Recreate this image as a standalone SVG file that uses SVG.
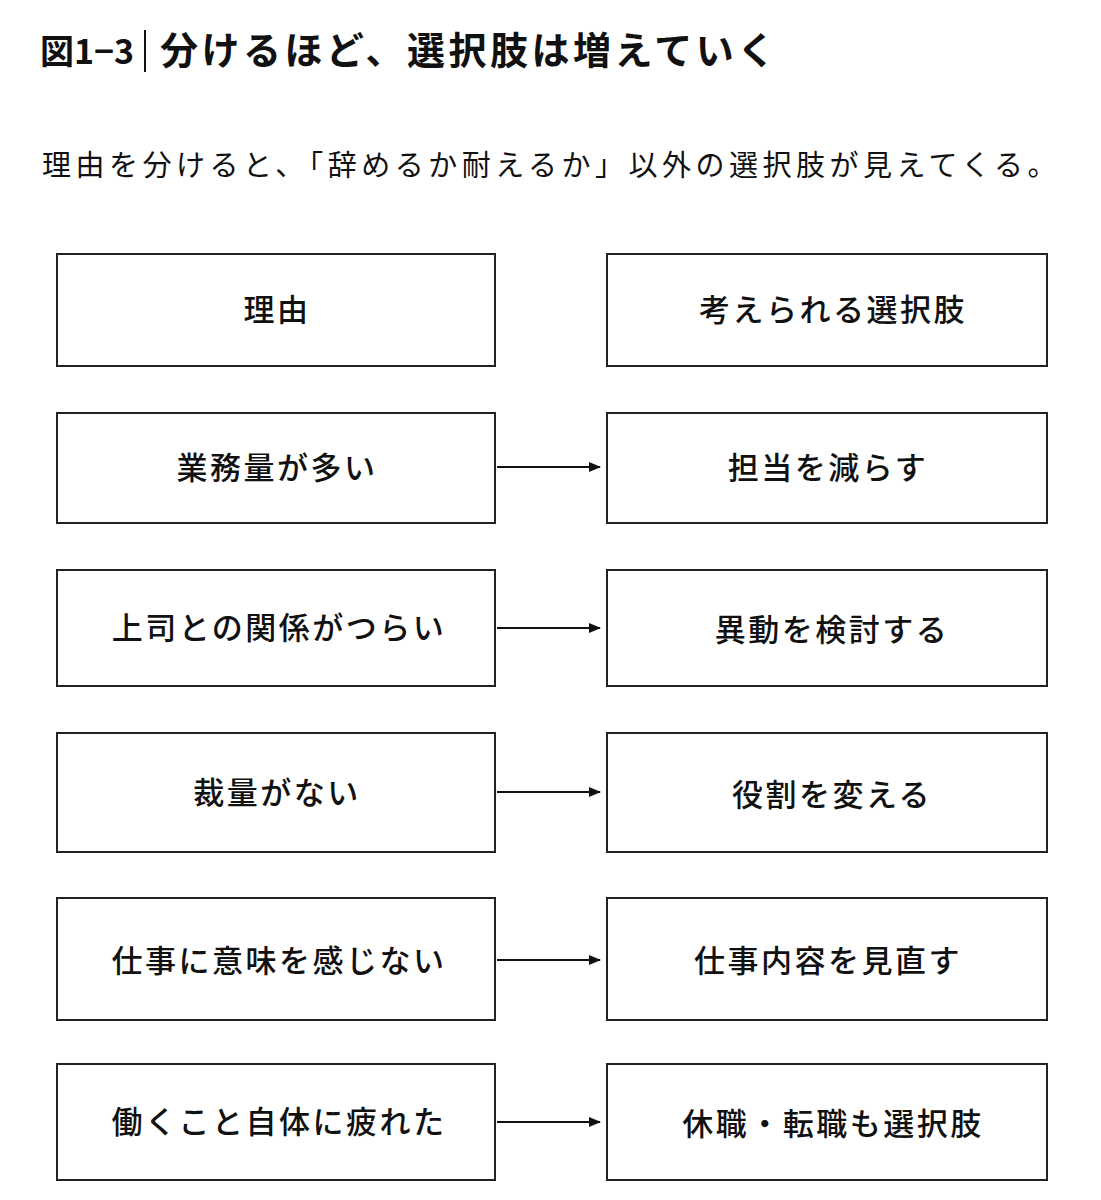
<svg xmlns="http://www.w3.org/2000/svg" width="1101" height="1200" viewBox="0 0 1101 1200">
<style>
text{font-family:"Noto Sans CJK JP","Noto Sans",sans-serif;fill:#111}
.b{fill:#fff;stroke:#222;stroke-width:2}
.t{font-size:31px;font-weight:500;text-anchor:middle;letter-spacing:2.5px}
.c{stroke:#111;stroke-width:2;fill:none;marker-end:url(#a)}
</style>
<defs><marker id="a" markerWidth="12" markerHeight="10" refX="11" refY="5" orient="auto" markerUnits="userSpaceOnUse"><path d="M0,0 L12,5 L0,10 Z" fill="#111"/></marker></defs>
<rect width="1101" height="1200" fill="#fff"/>
<g id="title"><text x="40" y="64" font-size="34" font-weight="700">図1−3</text>
<line x1="145" y1="30" x2="145" y2="72" stroke="#111" stroke-width="2"/>
<text x="160" y="64" font-size="38" font-weight="700" letter-spacing="3.5">分けるほど、選択肢は増えていく</text></g>
<text id="sub" x="42" y="176" font-size="29" letter-spacing="4.5">理由を分けると、「辞めるか耐えるか」以外の選択肢が見えてくる。</text>
<g id="h1"><rect class="b" x="57" y="254" width="438" height="112"/><text class="t" x="277" y="321" font-weight="700">理由</text></g>
<g id="h2"><rect class="b" x="607" y="254" width="440" height="112"/><text class="t" x="833" y="321" font-weight="700">考えられる選択肢</text></g>
<g id="l1"><rect class="b" x="57" y="413" width="438" height="110"/><text class="t" x="277" y="479">業務量が多い</text></g>
<g id="r1"><rect class="b" x="607" y="413" width="440" height="110"/><text class="t" x="828" y="479">担当を減らす</text></g>
<g id="l2"><rect class="b" x="57" y="570" width="438" height="116"/><text class="t" x="279" y="639">上司との関係がつらい</text></g>
<g id="r2"><rect class="b" x="607" y="570" width="440" height="116"/><text class="t" x="832" y="641">異動を検討する</text></g>
<g id="l3"><rect class="b" x="57" y="733" width="438" height="119"/><text class="t" x="277" y="804">裁量がない</text></g>
<g id="r3"><rect class="b" x="607" y="733" width="440" height="119"/><text class="t" x="832" y="806">役割を変える</text></g>
<g id="l4"><rect class="b" x="57" y="898" width="438" height="122"/><text class="t" x="279" y="972">仕事に意味を感じない</text></g>
<g id="r4"><rect class="b" x="607" y="898" width="440" height="122"/><text class="t" x="828" y="972">仕事内容を見直す</text></g>
<g id="l5"><rect class="b" x="57" y="1064" width="438" height="116"/><text class="t" x="279" y="1133">働くこと自体に疲れた</text></g>
<g id="r5"><rect class="b" x="607" y="1064" width="440" height="116"/><text class="t" x="833" y="1135">休職・転職も選択肢</text></g>
<g id="connectors">
<line class="c" x1="497" y1="467" x2="600" y2="467"/>
<line class="c" x1="497" y1="628" x2="600" y2="628"/>
<line class="c" x1="497" y1="792" x2="600" y2="792"/>
<line class="c" x1="497" y1="960" x2="600" y2="960"/>
<line class="c" x1="497" y1="1122" x2="600" y2="1122"/>
</g>
</svg>
